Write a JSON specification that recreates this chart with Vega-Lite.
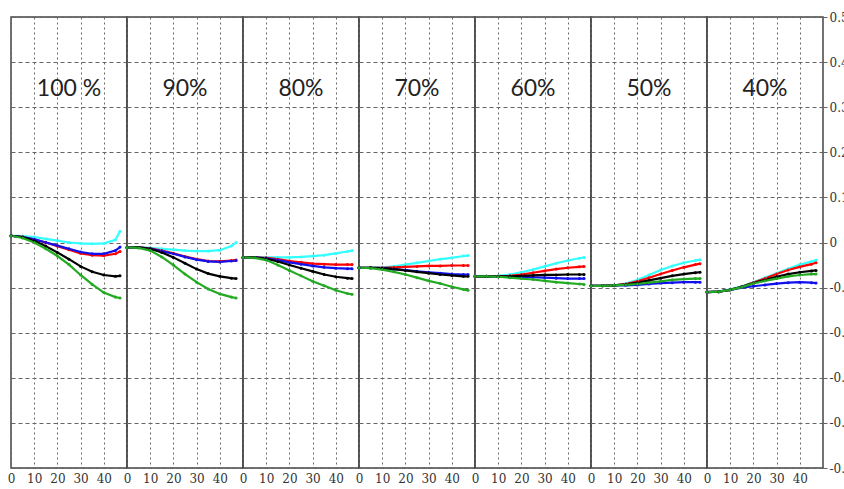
{
  "$schema": "https://vega.github.io/schema/vega-lite/v6.json",
  "padding": {"left": 5, "top": 11, "right": 0, "bottom": 0},
  "background": "white",
  "bounds": "flush",
  "data": {"values": [
    {"p":"100 %","x":0,"c":0.015,"r":0.015,"b":0.015,"k":0.015,"g":0.015},
    {"p":"100 %","x":5,"c":0.014,"r":0.012,"b":0.012,"k":0.012,"g":0.01},
    {"p":"100 %","x":10,"c":0.012,"r":0.007,"b":0.007,"k":0.004,"g":0.0},
    {"p":"100 %","x":15,"c":0.008,"r":0.0,"b":0.0,"k":-0.008,"g":-0.014},
    {"p":"100 %","x":20,"c":0.004,"r":-0.008,"b":-0.007,"k":-0.022,"g":-0.03},
    {"p":"100 %","x":25,"c":0.0,"r":-0.016,"b":-0.014,"k":-0.037,"g":-0.049},
    {"p":"100 %","x":30,"c":-0.002,"r":-0.024,"b":-0.021,"k":-0.053,"g":-0.072},
    {"p":"100 %","x":35,"c":-0.003,"r":-0.028,"b":-0.025,"k":-0.065,"g":-0.093},
    {"p":"100 %","x":40,"c":-0.002,"r":-0.029,"b":-0.025,"k":-0.072,"g":-0.111},
    {"p":"100 %","x":45,"c":0.006,"r":-0.025,"b":-0.018,"k":-0.075,"g":-0.121},
    {"p":"100 %","x":47,"c":0.025,"r":-0.02,"b":-0.01,"k":-0.074,"g":-0.123},
    {"p":"90%","x":0,"c":-0.011,"r":-0.011,"b":-0.011,"k":-0.011,"g":-0.011},
    {"p":"90%","x":5,"c":-0.011,"r":-0.011,"b":-0.011,"k":-0.011,"g":-0.012},
    {"p":"90%","x":10,"c":-0.012,"r":-0.013,"b":-0.014,"k":-0.014,"g":-0.018},
    {"p":"90%","x":15,"c":-0.014,"r":-0.018,"b":-0.019,"k":-0.022,"g":-0.032},
    {"p":"90%","x":20,"c":-0.016,"r":-0.024,"b":-0.025,"k":-0.033,"g":-0.05},
    {"p":"90%","x":25,"c":-0.018,"r":-0.031,"b":-0.032,"k":-0.046,"g":-0.07},
    {"p":"90%","x":30,"c":-0.019,"r":-0.037,"b":-0.038,"k":-0.059,"g":-0.088},
    {"p":"90%","x":35,"c":-0.019,"r":-0.041,"b":-0.042,"k":-0.069,"g":-0.103},
    {"p":"90%","x":40,"c":-0.017,"r":-0.042,"b":-0.043,"k":-0.075,"g":-0.114},
    {"p":"90%","x":45,"c":-0.008,"r":-0.04,"b":-0.041,"k":-0.079,"g":-0.121},
    {"p":"90%","x":47,"c":0.0,"r":-0.039,"b":-0.04,"k":-0.08,"g":-0.123},
    {"p":"80%","x":0,"c":-0.033,"r":-0.033,"b":-0.033,"k":-0.033,"g":-0.033},
    {"p":"80%","x":5,"c":-0.033,"r":-0.033,"b":-0.033,"k":-0.033,"g":-0.034},
    {"p":"80%","x":10,"c":-0.033,"r":-0.034,"b":-0.035,"k":-0.036,"g":-0.039},
    {"p":"80%","x":15,"c":-0.033,"r":-0.037,"b":-0.039,"k":-0.042,"g":-0.05},
    {"p":"80%","x":20,"c":-0.033,"r":-0.041,"b":-0.044,"k":-0.05,"g":-0.062},
    {"p":"80%","x":25,"c":-0.032,"r":-0.044,"b":-0.048,"k":-0.057,"g":-0.074},
    {"p":"80%","x":30,"c":-0.03,"r":-0.047,"b":-0.052,"k":-0.064,"g":-0.086},
    {"p":"80%","x":35,"c":-0.028,"r":-0.048,"b":-0.055,"k":-0.071,"g":-0.096},
    {"p":"80%","x":40,"c":-0.024,"r":-0.049,"b":-0.057,"k":-0.076,"g":-0.106},
    {"p":"80%","x":45,"c":-0.02,"r":-0.049,"b":-0.058,"k":-0.079,"g":-0.113},
    {"p":"80%","x":47,"c":-0.018,"r":-0.049,"b":-0.058,"k":-0.08,"g":-0.115},
    {"p":"70%","x":0,"c":-0.056,"r":-0.056,"b":-0.056,"k":-0.056,"g":-0.056},
    {"p":"70%","x":5,"c":-0.056,"r":-0.056,"b":-0.056,"k":-0.056,"g":-0.057},
    {"p":"70%","x":10,"c":-0.055,"r":-0.056,"b":-0.057,"k":-0.057,"g":-0.06},
    {"p":"70%","x":15,"c":-0.053,"r":-0.055,"b":-0.059,"k":-0.059,"g":-0.065},
    {"p":"70%","x":20,"c":-0.049,"r":-0.054,"b":-0.061,"k":-0.062,"g":-0.071},
    {"p":"70%","x":25,"c":-0.045,"r":-0.053,"b":-0.064,"k":-0.065,"g":-0.078},
    {"p":"70%","x":30,"c":-0.041,"r":-0.052,"b":-0.066,"k":-0.068,"g":-0.085},
    {"p":"70%","x":35,"c":-0.037,"r":-0.052,"b":-0.068,"k":-0.071,"g":-0.091},
    {"p":"70%","x":40,"c":-0.034,"r":-0.051,"b":-0.07,"k":-0.073,"g":-0.098},
    {"p":"70%","x":45,"c":-0.03,"r":-0.051,"b":-0.071,"k":-0.075,"g":-0.104},
    {"p":"70%","x":47,"c":-0.029,"r":-0.051,"b":-0.071,"k":-0.075,"g":-0.106},
    {"p":"60%","x":0,"c":-0.075,"r":-0.075,"b":-0.075,"k":-0.075,"g":-0.075},
    {"p":"60%","x":5,"c":-0.075,"r":-0.075,"b":-0.075,"k":-0.075,"g":-0.075},
    {"p":"60%","x":10,"c":-0.074,"r":-0.075,"b":-0.076,"k":-0.075,"g":-0.076},
    {"p":"60%","x":15,"c":-0.071,"r":-0.074,"b":-0.076,"k":-0.075,"g":-0.078},
    {"p":"60%","x":20,"c":-0.066,"r":-0.071,"b":-0.076,"k":-0.074,"g":-0.08},
    {"p":"60%","x":25,"c":-0.06,"r":-0.067,"b":-0.077,"k":-0.073,"g":-0.082},
    {"p":"60%","x":30,"c":-0.053,"r":-0.063,"b":-0.078,"k":-0.072,"g":-0.085},
    {"p":"60%","x":35,"c":-0.046,"r":-0.059,"b":-0.079,"k":-0.072,"g":-0.088},
    {"p":"60%","x":40,"c":-0.04,"r":-0.056,"b":-0.08,"k":-0.071,"g":-0.09},
    {"p":"60%","x":45,"c":-0.035,"r":-0.054,"b":-0.08,"k":-0.071,"g":-0.092},
    {"p":"60%","x":47,"c":-0.033,"r":-0.053,"b":-0.08,"k":-0.071,"g":-0.093},
    {"p":"50%","x":0,"c":-0.096,"r":-0.096,"b":-0.096,"k":-0.096,"g":-0.096},
    {"p":"50%","x":5,"c":-0.096,"r":-0.096,"b":-0.096,"k":-0.096,"g":-0.096},
    {"p":"50%","x":10,"c":-0.095,"r":-0.095,"b":-0.095,"k":-0.095,"g":-0.095},
    {"p":"50%","x":15,"c":-0.091,"r":-0.092,"b":-0.095,"k":-0.093,"g":-0.094},
    {"p":"50%","x":20,"c":-0.083,"r":-0.086,"b":-0.094,"k":-0.089,"g":-0.092},
    {"p":"50%","x":25,"c":-0.072,"r":-0.078,"b":-0.092,"k":-0.084,"g":-0.089},
    {"p":"50%","x":30,"c":-0.061,"r":-0.07,"b":-0.09,"k":-0.079,"g":-0.086},
    {"p":"50%","x":35,"c":-0.052,"r":-0.062,"b":-0.089,"k":-0.074,"g":-0.083},
    {"p":"50%","x":40,"c":-0.045,"r":-0.055,"b":-0.088,"k":-0.07,"g":-0.081},
    {"p":"50%","x":45,"c":-0.04,"r":-0.049,"b":-0.088,"k":-0.067,"g":-0.08},
    {"p":"50%","x":47,"c":-0.038,"r":-0.047,"b":-0.088,"k":-0.066,"g":-0.08},
    {"p":"40%","x":0,"c":-0.11,"r":-0.11,"b":-0.11,"k":-0.11,"g":-0.11},
    {"p":"40%","x":5,"c":-0.109,"r":-0.109,"b":-0.109,"k":-0.109,"g":-0.109},
    {"p":"40%","x":10,"c":-0.104,"r":-0.105,"b":-0.105,"k":-0.105,"g":-0.105},
    {"p":"40%","x":15,"c":-0.097,"r":-0.098,"b":-0.1,"k":-0.098,"g":-0.099},
    {"p":"40%","x":20,"c":-0.088,"r":-0.089,"b":-0.097,"k":-0.09,"g":-0.091},
    {"p":"40%","x":25,"c":-0.078,"r":-0.08,"b":-0.094,"k":-0.083,"g":-0.085},
    {"p":"40%","x":30,"c":-0.068,"r":-0.07,"b":-0.091,"k":-0.076,"g":-0.08},
    {"p":"40%","x":35,"c":-0.058,"r":-0.061,"b":-0.089,"k":-0.07,"g":-0.075},
    {"p":"40%","x":40,"c":-0.049,"r":-0.054,"b":-0.088,"k":-0.066,"g":-0.072},
    {"p":"40%","x":45,"c":-0.042,"r":-0.048,"b":-0.089,"k":-0.063,"g":-0.07},
    {"p":"40%","x":47,"c":-0.039,"r":-0.045,"b":-0.09,"k":-0.062,"g":-0.07}
  ]},
  "transform": [{"fold": ["c","r","b","k","g"], "as": ["s","v"]}],
  "facet": {"column": {"field": "p", "type": "nominal", "sort": ["100 %","90%","80%","70%","60%","50%","40%"], "header": null}},
  "spacing": 0,
  "spec": {
    "width": 116,
    "height": 451,
    "layer": [
      {
        "mark": {"type": "line", "strokeWidth": 2.2, "point": {"size": 9, "filled": true}},
        "encoding": {
          "x": {"field": "x", "type": "quantitative",
                "scale": {"domain": [0, 50], "nice": false},
                "axis": {"title": null, "values": [0,10,20,30,40], "ticks": false, "domain": false,
                         "labelFont": "DejaVu Serif", "labelFontSize": 12, "labelColor": "#333",
                         "labelPadding": 5, "labelFlush": false, "labelOverlap": false, "labelBound": false,
                         "grid": true, "gridColor": "#666", "gridDash": [2,3], "gridWidth": 1}},
          "y": {"field": "v", "type": "quantitative",
                "scale": {"domain": [-0.5, 0.5], "nice": false, "zero": false},
                "axis": {"title": null, "orient": "right",
                         "values": [-0.5,-0.4,-0.3,-0.2,-0.1,0,0.1,0.2,0.3,0.4,0.5],
                         "labelExpr": "datum.value < 0 ? '-' + format(-datum.value, '.1~f') : format(datum.value, '.1~f')",
                         "labelFont": "DejaVu Serif", "labelFontSize": 12, "labelColor": "#333",
                         "labelOverlap": false,
                         "tickSize": 4, "tickColor": "#666", "labelPadding": 2, "domain": false,
                         "grid": true, "gridColor": "#666", "gridDash": [4,3], "gridWidth": 1}},
          "color": {"field": "s", "type": "nominal",
                    "scale": {"domain": ["c","r","b","k","g"], "range": ["#33ffff","#ff0000","#1010ee","#000000","#22aa22"]},
                    "legend": null}
        }
      },
      {
        "transform": [{"filter": "datum.x == 0 && datum.s == 'c'"}],
        "mark": {"type": "text", "font": "Lato", "fontSize": 23, "color": "#222", "baseline": "middle", "align": "center"},
        "encoding": {
          "x": {"datum": 25, "type": "quantitative",
                "axis": {"title": null, "values": [0,10,20,30,40], "ticks": false, "domain": false,
                         "labelFont": "DejaVu Serif", "labelFontSize": 12, "labelColor": "#333",
                         "labelPadding": 5, "labelFlush": false, "labelOverlap": false, "labelBound": false,
                         "grid": true, "gridColor": "#666", "gridDash": [2,3], "gridWidth": 1}},
          "y": {"datum": 0.34, "type": "quantitative",
                "axis": {"title": null, "orient": "right",
                         "values": [-0.5,-0.4,-0.3,-0.2,-0.1,0,0.1,0.2,0.3,0.4,0.5],
                         "labelExpr": "datum.value < 0 ? '-' + format(-datum.value, '.1~f') : format(datum.value, '.1~f')",
                         "labelFont": "DejaVu Serif", "labelFontSize": 12, "labelColor": "#333",
                         "labelOverlap": false,
                         "tickSize": 4, "tickColor": "#666", "labelPadding": 2, "domain": false,
                         "grid": true, "gridColor": "#666", "gridDash": [4,3], "gridWidth": 1}},
          "text": {"field": "p"}
        }
      }
    ]
  },
  "config": {
    "view": {"stroke": "#444", "strokeWidth": 1.5},
    "axis": {"labelOverlap": false},
    "axisX": {"labelOverlap": false}
  }
}
